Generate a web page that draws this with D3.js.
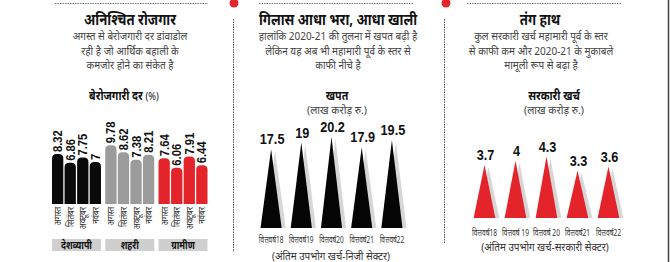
<!DOCTYPE html>
<html><head><meta charset="utf-8">
<script src="https://cdn.jsdelivr.net/npm/d3@7"></script>
<style>
html,body{margin:0;padding:0;background:#fff;}
svg{display:block;font-family:"Noto Sans","Noto Sans Devanagari",sans-serif;}
.num{font-family:"Liberation Sans Narrow","Liberation Sans",sans-serif;font-weight:bold;}
</style></head><body>
<svg id="c" width="670" height="262"></svg>
<script>
// ---------- data ----------
const months = ["अगस्त","सितंबर","अक्टूबर","नवंबर"];
const regions = ["देशव्यापी","शहरी","ग्रामीण"];
const nationwide = [8.32, 6.86, 7.75, 7];
const urban = [9.78, 8.62, 7.38, 8.21];
const rural = [7.64, 6.06, 7.91, 6.44];
const regionColors = ["#0a0a0a","#9b9b9b","#e3242b"];

const consYears = ["वित्तवर्ष18","वित्तवर्ष19","वित्तवर्ष20","वित्तवर्ष21","वित्तवर्ष22"];
const consumption = [17.5, 19, 20.2, 17.9, 19.5];
const govYears = ["वित्तवर्ष18","वित्तवर्ष 19","वित्तवर्ष 20","वित्तवर्ष21","वित्तवर्ष22"];
const govSpend = [3.7, 4, 4.3, 3.3, 3.6];

const titles = ["अनिश्चित रोजगार","गिलास आधा भरा, आधा खाली","तंग हाथ"];
const subtitles = [
  ["अगस्त से बेरोजगारी दर डांवाडोल","रही है जो आर्थिक बहाली के","कमजोर होने का संकेत है"],
  ["हालांकि 2020-21 की तुलना में खपत बढ़ी है","लेकिन यह अब भी महामारी पूर्व के स्तर से","काफी नीचे है"],
  ["कुल सरकारी खर्च महामारी पूर्व के स्तर","से काफी कम और 2020-21 के मुकाबले","मामूली रूप से बढ़ा है"]
];
const unitLabel = "(लाख करोड़ रु.)";
const notes = ["(अंतिम उपभोग खर्च-निजी सेक्टर)","(अंतिम उपभोग खर्च-सरकारी सेक्टर)"];

// ---------- drawing ----------
const svg = d3.select("#c");

// text helper with horizontal condensation
function txt(parent, x, y, s, opts){
  const o = Object.assign({size:11, sx:1, rot:0, anchor:"middle", fill:"#111", weight:"normal", cls:null}, opts||{});
  const t = parent.append("text")
    .attr("transform",`translate(${x},${y})${o.rot?` rotate(${o.rot})`:""} scale(${o.sx},1)`)
    .attr("text-anchor",o.anchor).attr("font-size",o.size).attr("fill",o.fill).attr("font-weight",o.weight);
  if(o.cls) t.attr("class",o.cls);
  t.text(s);
  return t;
}

// frame decorations
const dashes = [[55,208],[259,413],[467,621]];
dashes.forEach(d=>svg.append("line").attr("x1",d[0]).attr("x2",d[1]).attr("y1",3.5).attr("y2",3.5)
  .attr("stroke","#777").attr("stroke-width",1).attr("stroke-dasharray","1.5,1"));
[[233.5,252],[444.5,243]].forEach(d=>{
  svg.append("line").attr("x1",d[0]).attr("x2",d[0]).attr("y1",19).attr("y2",d[1])
    .attr("stroke","#555").attr("stroke-width",1).attr("stroke-dasharray","1.5,1");
});
[234,446].forEach(x=>svg.append("circle").attr("cx",x).attr("cy",3).attr("r",4.5).attr("fill","#e3242b"));
svg.append("line").attr("x1",668.5).attr("x2",668.5).attr("y1",0).attr("y2",262).attr("stroke","#444").attr("stroke-width",1.5);

// titles and subtitles
const centers = [130,338,540];
titles.forEach((t,i)=>{
  txt(svg, centers[i], 25, t, {size:16.5, weight:"bold", sx:0.8, fill:"#111"});
  subtitles[i].forEach((s,j)=>{
    txt(svg, centers[i]+(i===2?1:0), 40+j*14.5, s, {size:10.5, sx:0.95, fill:"#444"});
  });
});

// ---- panel 1: rounded bars ----
const p1 = svg.append("g");
p1.append("text").attr("transform","translate(124,100) scale(0.85,1)").attr("text-anchor","middle").attr("font-size",12.5)
  .attr("fill","#111").html('<tspan font-weight="bold">बेरोजगारी दर</tspan> <tspan font-size="11">(%)</tspan>');

const gx = d3.scaleBand().domain(regions).range([52,207.5]).paddingInner(0.08).paddingOuter(0);
const mx = d3.scaleBand().domain(months).range([0,gx.bandwidth()]).paddingInner(0.1);
const y1 = d3.scaleLinear().domain([0,10]).range([204,144]);
const series = [nationwide, urban, rural];

function roundTop(x,y,w,h,r){
  r=Math.min(r,w/2,h);
  return `M${x},${y+h}V${y+r}Q${x},${y} ${x+r},${y}H${x+w-r}Q${x+w},${y} ${x+w},${y+r}V${y+h}Z`;
}

regions.forEach((reg,gi)=>{
  const g = p1.append("g").attr("transform",`translate(${gx(reg)},0)`);
  const data = months.map((m,k)=>({m, v:series[gi][k]}));
  g.selectAll("path.bar").data(data).join("path").attr("class","bar")
    .attr("d",d=>roundTop(mx(d.m), y1(d.v), mx.bandwidth(), y1(0)-y1(d.v), 4.5))
    .attr("fill",regionColors[gi]);
  data.forEach(d=>{
    txt(g, mx(d.m)+mx.bandwidth()/2+4.5, y1(d.v)-2, d.v, {size:12.5, rot:-90, sx:0.9, anchor:"start", cls:"num"});
    txt(g, mx(d.m)+mx.bandwidth()/2+3.5, y1(0)+3, d.m, {size:9.5, rot:-90, sx:0.85, anchor:"end", fill:"#333"});
  });
  g.append("rect").attr("x",0).attr("y",239).attr("width",gx.bandwidth()).attr("height",12).attr("fill","#cfcfcf");
  txt(g, gx.bandwidth()/2, 249, reg, {size:11, weight:"bold", sx:0.8});
});

// ---- triangle panels ----
function trianglePanel(opt){
  const g = svg.append("g");
  txt(g, opt.lx, 100, opt.label, {size:12.5, weight:"bold", sx:0.85});
  txt(g, opt.lx, 114, unitLabel, {size:10.5, fill:"#444"});
  const x = d3.scaleBand().domain(opt.cats).range(opt.xr).paddingInner(0.3).paddingOuter(0.15);
  const y = d3.scaleLinear().domain([0,opt.ymax]).range([opt.base, opt.base-opt.ymax*opt.ppu]);
  const data = opt.cats.map((c,i)=>({c, v:opt.vals[i]}));
  const w = x.bandwidth();
  g.selectAll("path.sh").data(data).join("path").attr("class","sh")
    .attr("d",d=>`M${x(d.c)+4},${y(0)}L${x(d.c)+w/2+4},${y(d.v)+2}L${x(d.c)+w+4},${y(0)}Z`)
    .attr("fill","#d6d6d6");
  g.selectAll("path.tri").data(data).join("path").attr("class","tri")
    .attr("d",d=>`M${x(d.c)},${y(0)}L${x(d.c)+w/2},${y(d.v)}L${x(d.c)+w},${y(0)}Z`)
    .attr("fill",opt.color);
  data.forEach(d=>{
    txt(g, x(d.c)+w/2+1, y(d.v)-5, d.v, {size:15.5, sx:0.82, cls:"num"});
    txt(g, x(d.c)+w/2, opt.catY, d.c, {size:9, sx:opt.catSx, fill:"#333"});
  });
  txt(g, opt.nx, opt.ny, opt.note, {size:11, fill:"#333", sx:0.9});
}

trianglePanel({cats:consYears, vals:consumption, xr:[256,407], base:228, ymax:21, ppu:4.5,
  color:"#050505", label:"खपत", lx:337, catY:243, note:notes[0], nx:331, ny:260, catSx:0.72});
trianglePanel({cats:govYears, vals:govSpend, xr:[469,624], base:218, ymax:4.5, ppu:14.3,
  color:"#e3242b", label:"सरकारी खर्च", lx:554, catY:236, note:notes[1], nx:545, ny:251, catSx:0.74});
</script></body></html>
